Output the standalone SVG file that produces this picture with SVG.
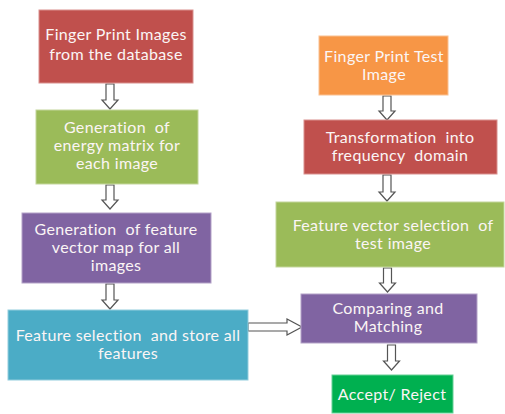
<svg xmlns="http://www.w3.org/2000/svg" width="505" height="414" viewBox="0 0 505 414">
<style>
.box{stroke-width:1}
.t{font-family:Lato,"Open Sans","Liberation Sans",sans-serif;font-size:16px;letter-spacing:0.35px;fill:#FBF5F5;text-anchor:middle;white-space:pre}
.arr{fill:#FFFFFF;stroke:#555555;stroke-width:1.2;stroke-linejoin:miter}
</style>
<rect width="505" height="414" fill="#FFFFFF"/>
<g id="connectors">
<polygon class="arr" transform="translate(110,84)" points="-4,0 4,0 4,16 8,16 0,25 -8,16 -4,16"/>
<polygon class="arr" transform="translate(110,185)" points="-4,0 4,0 4,15 8,15 0,24 -8,15 -4,15"/>
<polygon class="arr" transform="translate(110,284)" points="-4,0 4,0 4,16 8,16 0,25 -8,16 -4,16"/>
<polygon class="arr" transform="translate(248,327)" points="0,-4 39,-4 39,-8 54,0 39,8 39,4 0,4"/>
<polygon class="arr" transform="translate(387,96)" points="-4,0 4,0 4,15 8,15 0,24 -8,15 -4,15"/>
<polygon class="arr" transform="translate(387,175)" points="-4,0 4,0 4,17 8,17 0,26 -8,17 -4,17"/>
<polygon class="arr" transform="translate(387.5,268)" points="-4,0 4,0 4,15 8,15 0,24 -8,15 -4,15"/>
<polygon class="arr" transform="translate(391.5,345)" points="-4,0 4,0 4,16 8,16 0,25 -8,16 -4,16"/>
</g>
<g id="n1">
<rect class="box" x="39" y="10" width="154" height="73" fill="#C0504D" stroke="#D9908E"/>
<text class="t" x="116" y="40">Finger Print Images</text>
<text class="t" x="116" y="60">from the database</text>
</g>
<g id="n2">
<rect class="box" x="36" y="110" width="162" height="74" fill="#9BBB59" stroke="#C3D69B"/>
<text class="t" x="117" y="133">Generation  of</text>
<text class="t" x="117" y="151">energy matrix for</text>
<text class="t" x="117" y="169">each image</text>
</g>
<g id="n3">
<rect class="box" x="22" y="213" width="189" height="70" fill="#8064A2" stroke="#B3A2C7"/>
<text class="t" x="116" y="235">Generation  of feature</text>
<text class="t" x="116" y="253">vector map for all</text>
<text class="t" x="116" y="271">images</text>
</g>
<g id="n4">
<rect class="box" x="8" y="310" width="240" height="70" fill="#4BACC6" stroke="#93CDDD"/>
<text class="t" x="128" y="341">Feature selection  and store all</text>
<text class="t" x="128" y="359">features</text>
</g>
<g id="n5">
<rect class="box" x="319" y="36" width="129" height="59" fill="#F79646" stroke="#FAC090"/>
<text class="t" x="384" y="62">Finger Print Test</text>
<text class="t" x="384" y="80">Image</text>
</g>
<g id="n6">
<rect class="box" x="304" y="120" width="193" height="54" fill="#C0504D" stroke="#D9908E"/>
<text class="t" x="400" y="143">Transformation  into</text>
<text class="t" x="400" y="161">frequency  domain</text>
</g>
<g id="n7">
<rect class="box" x="276" y="202" width="228" height="65" fill="#9BBB59" stroke="#C3D69B"/>
<text class="t" x="393" y="231">Feature vector selection  of</text>
<text class="t" x="393" y="249">test image</text>
</g>
<g id="n8">
<rect class="box" x="301" y="294" width="176" height="49" fill="#8064A2" stroke="#B3A2C7"/>
<text class="t" x="388" y="314">Comparing and</text>
<text class="t" x="388" y="332">Matching</text>
</g>
<g id="n9">
<rect class="box" x="332" y="375" width="121" height="38" fill="#00B050" stroke="#66D096"/>
<text class="t" x="392" y="400">Accept/ Reject</text>
</g>
</svg>
